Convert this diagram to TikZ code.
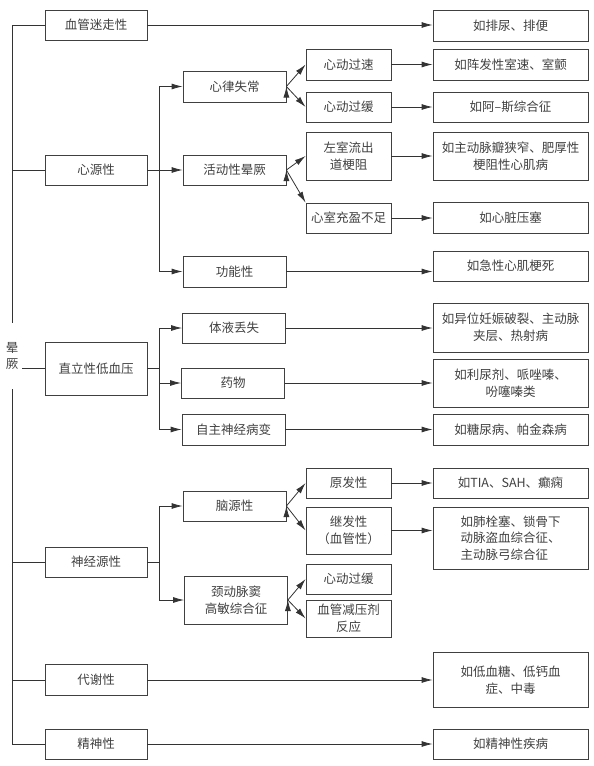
\documentclass[tikz,border=0pt]{standalone}
\usepackage{fontspec}
\newfontfamily\cjk{Noto Sans CJK SC}
\usetikzlibrary{arrows.meta}
\usetikzlibrary{calc}

\begin{document}
\begin{tikzpicture}[x=1pt,y=-1pt,>/.tip={Latex[length=11pt,width=6pt]},
	line width=0.8pt, draw=black!80,
	box/.style={draw=black!75,line width=0.8pt,inner sep=0pt,align=center,text=black!75,
		font={\cjk\fontsize{12.5}{16.5}\selectfont}},
	lvone/.style={box,minimum width=102pt,minimum height=30pt},
	lvtwo/.style={box,minimum width=103pt,minimum height=31pt},
	lvthree/.style={box,minimum width=85pt,minimum height=30pt},
	lvfour/.style={box,minimum width=155pt,minimum height=31pt}]
	\useasboundingbox (0,0) rectangle (594,766);
	% root label
	\draw (12,356) node(root) [box,draw=none,minimum width=20pt,minimum height=66pt] {晕\\厥};
	% first level
	\draw (96,25) node(v1) [lvone] {血管迷走性};
	\draw (96,170) node(v2) [lvone] {心源性};
	\draw (96,368.5) node(v3) [lvone,minimum height=53pt] {直立性低血压};
	\draw (96,562) node(v4) [lvone] {神经源性};
	\draw (96,680) node(v5) [lvone,minimum height=31pt] {代谢性};
	\draw (96,744) node(v6) [lvone] {精神性};
	% second level
	\draw (234.5,86.5) node(a1) [lvtwo] {心律失常};
	\draw (234.5,170) node(a2) [lvtwo,minimum height=30pt] {活动性晕厥};
	\draw (234.5,271.5) node(a3) [lvtwo] {功能性};
	\draw (234,328) node(b1) [lvtwo,minimum height=30pt] {体液丢失};
	\draw (233,383) node(b2) [lvtwo,minimum height=30pt] {药物};
	\draw (233.5,429.5) node(b3) [lvtwo] {自主神经病变};
	\draw (234.5,506) node(c1) [lvtwo,minimum height=30pt] {脑源性};
	\draw (236,600) node(c2) [lvtwo,minimum height=48pt] {颈动脉窦\\高敏综合征};
	% third level
	\draw (348.5,64.5) node(d1) [lvthree,minimum height=31pt] {心动过速};
	\draw (348.5,107) node(d2) [lvthree] {心动过缓};
	\draw (348.5,156) node(d3) [lvthree,minimum height=48pt] {左室流出\\道梗阻};
	\draw (348.5,218) node(d4) [lvthree] {心室充盈不足};
	\draw (348.5,483) node(e1) [lvthree] {原发性};
	\draw (348.5,530.5) node(e2) [lvthree,minimum height=47pt] {继发性\\（血管性）};
	\draw (348.5,579) node(e3) [lvthree] {心动过缓};
	\draw (348.5,618.5) node(e4) [lvthree,minimum height=37pt] {血管减压剂\\反应};
	% examples
	\draw (510.5,25.5) node(f1) [lvfour] {如排尿、排便};
	\draw (510.5,64.5) node(f2) [lvfour] {如阵发性室速、室颤};
	\draw (510.5,107) node(f3) [lvfour,minimum height=30pt] {如阿–斯综合征};
	\draw (510.5,156) node(f4) [lvfour,minimum height=48pt] {如主动脉瓣狭窄、肥厚性\\梗阻性心肌病};
	\draw (510.5,217.5) node(f5) [lvfour] {如心脏压塞};
	\draw (510.5,266) node(f6) [lvfour,minimum height=30pt] {如急性心肌梗死};
	\draw (510.5,327.5) node(f7) [lvfour,minimum height=49pt] {如异位妊娠破裂、主动脉\\夹层、热射病};
	\draw (510.5,383) node(f8) [lvfour,minimum height=48pt] {如利尿剂、哌唑嗪、\\吩噻嗪类};
	\draw (510.5,429.5) node(f9) [lvfour] {如糖尿病、帕金森病};
	\draw (510.5,483) node(f10) [lvfour,minimum height=30pt] {如TIA、SAH、癫痫};
	\draw (510.5,538) node(f11) [lvfour,minimum height=62pt,align=left] {如肺栓塞、锁骨下\\动脉盗血综合征、\\主动脉弓综合征};
	\draw (510.5,680) node(f12) [lvfour,minimum height=55pt] {如低血糖、低钙血\\症、中毒};
	\draw (510.5,744) node(f13) [lvfour,minimum height=30pt] {如精神性疾病};

	% trunk
	\draw (v1.west) -| (root.north);
	\draw (root.south) |- (v6.west);
	\draw (v2.west) -- (v2.west -| root);
	\draw (v4.west) -- (v4.west -| root);
	\draw (v5.west) -- (v5.west -| root);
	\draw (root.east |- v3.west) -- (v3.west);

	% branches
	\draw (v2.east) -- ++(12,0) coordinate (t2);
	\draw[->] (t2) |- (a1.west);
	\draw[->] (t2) -- (a2.west);
	\draw[->] (t2) |- (a3.west);
	\draw (v3.east) -- ++(12,0) coordinate (t3);
	\draw[->] (t3) |- (b1.west);
	\draw[->] (t3) |- (b2.west);
	\draw[->] (t3) |- (b3.west);
	\draw (v4.east) -- ++(12,0) coordinate (t4);
	\draw[->] (t4) |- (c1.west);
	\draw[->] (t4) |- (c2.west);

	\draw[->] (a1.east) edge (d1.west) edge (d2.west);
	\draw[->] (a2.east) edge (d3.west) edge (d4.north west);
	\draw[->] (c1.east) edge (e1.west) edge (e2.west);
	\draw[->] (c2.east) edge (e3.west) edge (e4.west);

	\draw[->] (v1.east) -- (f1.west |- v1.east);
	\draw[->] (d1.east) -- (f2.west |- d1.east);
	\draw[->] (d2.east) -- (f3.west |- d2.east);
	\draw[->] (d3.east) -- (f4.west |- d3.east);
	\draw[->] (d4.east) -- (f5.west |- d4.east);
	\draw[->] (a3.east) -- (f6.west |- a3.east);
	\draw[->] (b1.east) -- (f7.west |- b1.east);
	\draw[->] (b2.east) -- (f8.west |- b2.east);
	\draw[->] (b3.east) -- (f9.west |- b3.east);
	\draw[->] (e1.east) -- (f10.west |- e1.east);
	\draw[->] (e2.east) -- (f11.west |- e2.east);
	\draw[->] (v5.east) -- (f12.west |- v5.east);
	\draw[->] (v6.east) -- (f13.west |- v6.east);
\end{tikzpicture}
\end{document}
